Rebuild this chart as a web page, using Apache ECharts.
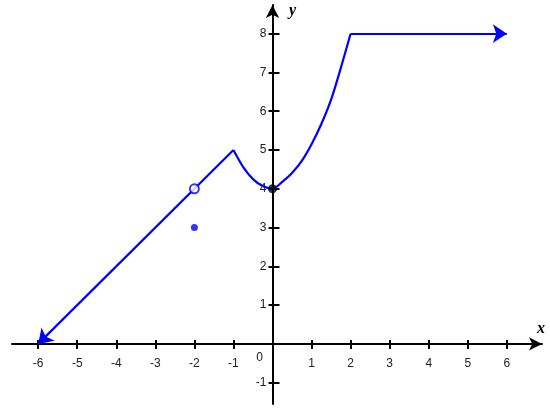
<!DOCTYPE html>
<html>
<head>
<meta charset="utf-8">
<script src="https://cdn.jsdelivr.net/npm/echarts@6/dist/echarts.min.js"></script>
<style>html,body{margin:0;padding:0;background:#fff}#c{width:550px;height:416px}</style>
</head>
<body>
<div id="c"></div>
<script>
// ---- data ----
const xTickValues = [-6, -5, -4, -3, -2, -1, 1, 2, 3, 4, 5, 6];
const yTickValues = [-1, 1, 2, 3, 4, 5, 6, 7, 8];
const leftSegment = [[-6, 0], [-1, 5]];
const curvePoints = [[-1, 5], [-0.75, 4.56], [-0.5, 4.25], [-0.25, 4.07], [0, 4], [0.25, 4.18], [0.5, 4.41], [0.75, 4.72], [1, 5.15], [1.25, 5.67], [1.5, 6.3], [1.75, 7.12], [2, 8]];
const topSegment = [[2, 8], [6, 8]];
const openPoints = [[-2, 4]];
const bluePoints = [[-2, 3]];
const blackPoints = [[0, 4]];

const BLUE = '#0000ff';
const AX = '#000';
const chart = echarts.init(document.getElementById('c'), null, {renderer: 'canvas'});

const W = 550, H = 416;
const G = {left: 12, right: 8, top: 5, bottom: 12};
const xMin = -6.67, xMax = 6.9, yMin = -1.55, yMax = 8.74;
const gw = W - G.left - G.right, gh = H - G.top - G.bottom;
const zeroX = G.left + (0 - xMin) / (xMax - xMin) * gw;
const zeroY = G.top + (yMax - 0) / (yMax - yMin) * gh;
const labelStyle = {color: '#222', fontSize: 12, fontFamily: 'Liberation Sans, Arial, sans-serif'};

chart.setOption({
  animation: false,
  backgroundColor: '#fff',
  grid: Object.assign({containLabel: false, outerBoundsMode: 'none'}, G),
  xAxis: [{
    type: 'value', min: xMin, max: xMax, position: 'bottom', offset: -(H - G.bottom - zeroY),
    axisLine: {show: true, onZero: false, symbol: ['none', 'arrow'], symbolSize: [10, 13], lineStyle: {color: AX, width: 2}},
    axisTick: {show: true, customValues: xTickValues, length: 5, lineStyle: {color: AX, width: 2}},
    axisLabel: Object.assign({customValues: xTickValues, margin: 14}, labelStyle),
    splitLine: {show: false}
  }, {
    type: 'value', min: xMin, max: xMax, position: 'top', offset: -(zeroY - G.top),
    axisLine: {show: false, onZero: false},
    axisTick: {show: true, customValues: xTickValues, length: 4, lineStyle: {color: AX, width: 2}},
    axisLabel: {show: false},
    splitLine: {show: false}
  }],
  yAxis: [{
    type: 'value', min: yMin, max: yMax, position: 'left', offset: -(zeroX - G.left),
    axisLine: {show: true, onZero: false, symbol: ['none', 'arrow'], symbolSize: [10, 13], lineStyle: {color: AX, width: 2}},
    axisTick: {show: true, customValues: yTickValues, length: 4, lineStyle: {color: AX, width: 2}},
    axisLabel: Object.assign({customValues: yTickValues, margin: 6}, labelStyle),
    splitLine: {show: false}
  }, {
    type: 'value', min: yMin, max: yMax, position: 'right', offset: -(W - G.right - zeroX),
    axisLine: {show: false, onZero: false},
    axisTick: {show: true, customValues: yTickValues, length: 7, lineStyle: {color: AX, width: 2}},
    axisLabel: {show: false},
    splitLine: {show: false}
  }],
  series: [
    {
      type: 'lines', coordinateSystem: 'cartesian2d', xAxisIndex: 0, yAxisIndex: 0,
      symbol: ['arrow', 'none'], symbolSize: 14,
      lineStyle: {color: BLUE, width: 2.2, opacity: 1},
      data: [{coords: leftSegment}], z: 3
    },
    {
      type: 'lines', coordinateSystem: 'cartesian2d', xAxisIndex: 0, yAxisIndex: 0,
      symbol: ['none', 'arrow'], symbolSize: 14,
      lineStyle: {color: BLUE, width: 2.2, opacity: 1},
      data: [{coords: topSegment}], z: 3
    },
    {
      type: 'line', xAxisIndex: 0, yAxisIndex: 0, data: curvePoints, smooth: 0.3,
      showSymbol: false, symbol: 'none', lineStyle: {color: BLUE, width: 2.2}, z: 3,
      emphasis: {disabled: true}
    },
    {
      type: 'scatter', data: openPoints, symbol: 'circle', symbolSize: 9,
      itemStyle: {color: '#fff', borderColor: BLUE, borderWidth: 2}, z: 5, emphasis: {disabled: true}
    },
    {
      type: 'scatter', data: bluePoints, symbol: 'circle', symbolSize: 7,
      itemStyle: {color: BLUE}, z: 5, emphasis: {disabled: true}
    },
    {
      type: 'scatter', data: blackPoints, symbol: 'circle', symbolSize: 9,
      itemStyle: {color: '#000'}, z: 5, emphasis: {disabled: true}
    }
  ]
});

const o = chart.convertToPixel({gridIndex: 0}, [0, 0]);
const xEnd = chart.convertToPixel({gridIndex: 0}, [xMax, 0]);
const yEnd = chart.convertToPixel({gridIndex: 0}, [0, yMax]);
chart.setOption({
  graphic: [
    {type: 'text', x: o[0] - 13, y: o[1] + 14, style: {text: '0', fill: '#222', font: '12px Liberation Sans, Arial, sans-serif', align: 'center', verticalAlign: 'middle'}},
    {type: 'text', x: xEnd[0] - 1, y: xEnd[1] - 15, style: {text: 'x', fill: '#000', font: 'italic bold 16px Liberation Serif, Times New Roman, serif', align: 'center', verticalAlign: 'middle'}},
    {type: 'text', x: yEnd[0] + 20, y: yEnd[1] + 6, style: {text: 'y', fill: '#000', font: 'italic bold 16px Liberation Serif, Times New Roman, serif', align: 'center', verticalAlign: 'middle'}}
  ]
});
</script>
</body>
</html>
